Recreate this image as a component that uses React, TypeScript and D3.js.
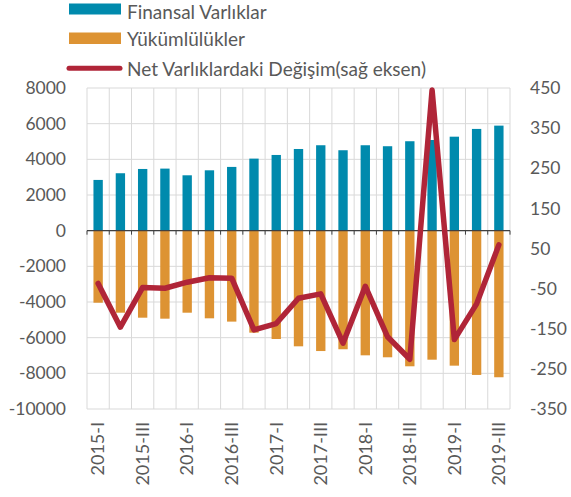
import React from "react";
import * as d3 from "d3";

const categories = [
  "2015-I", "2015-II", "2015-III", "2015-IV",
  "2016-I", "2016-II", "2016-III", "2016-IV",
  "2017-I", "2017-II", "2017-III", "2017-IV",
  "2018-I", "2018-II", "2018-III", "2018-IV",
  "2019-I", "2019-II", "2019-III",
];
const assets = [2845, 3220, 3460, 3480, 3105, 3385, 3575, 4040, 4245, 4580, 4790, 4510, 4790, 4735, 5015, 5085, 5270, 5705, 5890];
const liabilities = [-4040, -4600, -4880, -4935, -4600, -4915, -5100, -5720, -6075, -6485, -6750, -6650, -6990, -7100, -7605, -7235, -7570, -8090, -8220];
const netChange = [-37, -146, -47, -49, -34, -23, -24, -153, -137, -74, -63, -186, -44, -170, -226, 445, -177, -88, 59];
const leftTicks = [8000, 6000, 4000, 2000, 0, -2000, -4000, -6000, -8000, -10000];
const rightTicks = [450, 350, 250, 150, 50, -50, -150, -250, -350];
const legendLabels = ["Finansal Varlıklar", "Yükümlülükler", "Net Varlıklardaki Değişim(sağ eksen)"];

const W = 571, H = 497;
const L = 87, R = 510, T = 88, B = 409;
const BLUE = "#008AAD", ORANGE = "#DD9333", RED = "#B02538", GRID = "#D9D9D9", TXT = "#595959";
const FONT = "Lato, 'Open Sans', sans-serif";

export default function App() {
  const x = d3.scaleBand<string>().domain(categories).range([L, R]).padding(0);
  const yL = d3.scaleLinear().domain([-10000, 8000]).range([B, T]);
  const yR = d3.scaleLinear().domain([-350, 450]).range([B, T]);
  const bw = x.bandwidth() * 0.42;
  const cx = (c: string) => (x(c) as number) + x.bandwidth() / 2;
  const line = d3.line<number>().x((_, i) => cx(categories[i])).y((v) => yR(v));
  const boundaries = d3.range(categories.length + 1).map((i) => L + i * x.bandwidth());

  return (
    <svg width={W} height={H} style={{ position: "absolute", left: 0, top: 0 }} fontFamily={FONT}>
      <rect width={W} height={H} fill="#fff" />
      {leftTicks.map((t) => (
        <line key={"h" + t} x1={L} x2={R} y1={yL(t)} y2={yL(t)} stroke={GRID} strokeWidth={1} />
      ))}
      {boundaries.map((b, i) => (
        <line key={"v" + i} x1={b} x2={b} y1={T} y2={B} stroke={GRID} strokeWidth={1} />
      ))}
      {categories.map((c, i) => (
        <rect key={"a" + c} x={cx(c) - bw / 2} width={bw} y={yL(assets[i])} height={yL(0) - yL(assets[i])} fill={BLUE} />
      ))}
      {categories.map((c, i) => (
        <rect key={"l" + c} x={cx(c) - bw / 2} width={bw} y={yL(0)} height={yL(liabilities[i]) - yL(0)} fill={ORANGE} />
      ))}
      <line x1={L} x2={R} y1={yL(0)} y2={yL(0)} stroke="#404040" strokeWidth={1.3} />
      {boundaries.map((b, i) => (
        <line key={"t" + i} x1={b} x2={b} y1={yL(0)} y2={yL(0) + 4} stroke="#404040" strokeWidth={1} />
      ))}
      <path d={line(netChange) || ""} fill="none" stroke={RED} strokeWidth={5.5} strokeLinejoin="round" strokeLinecap="round" />
      {leftTicks.map((t) => (
        <text key={"lt" + t} x={66} y={yL(t)} dy="0.35em" textAnchor="end" fontSize={17.5} fill={TXT}>{t}</text>
      ))}
      {rightTicks.map((t) => (
        <text key={"rt" + t} x={530} y={yR(t)} dy="0.35em" textAnchor="start" fontSize={17.5} fill={TXT}>{t}</text>
      ))}
      {categories.map((c, i) =>
        i % 2 === 0 ? (
          <text key={"x" + c} transform={`translate(${cx(c)},422) rotate(-90)`} dy="0.35em" textAnchor="end" fontSize={18} fill={TXT}>{c}</text>
        ) : null
      )}
      <rect x={69} y={3.5} width={52} height={11} fill={BLUE} />
      <text x={127} y={18.5} fontSize={19} fill={TXT}>{legendLabels[0]}</text>
      <rect x={69} y={32.5} width={52} height={11.5} fill={ORANGE} />
      <text x={127} y={46} fontSize={19} fill={TXT}>{legendLabels[1]}</text>
      <line x1={69} x2={120} y1={68.3} y2={68.3} stroke={RED} strokeWidth={5} strokeLinecap="round" />
      <text x={127} y={75.5} fontSize={19} fill={TXT}>{legendLabels[2]}</text>
    </svg>
  );
}
